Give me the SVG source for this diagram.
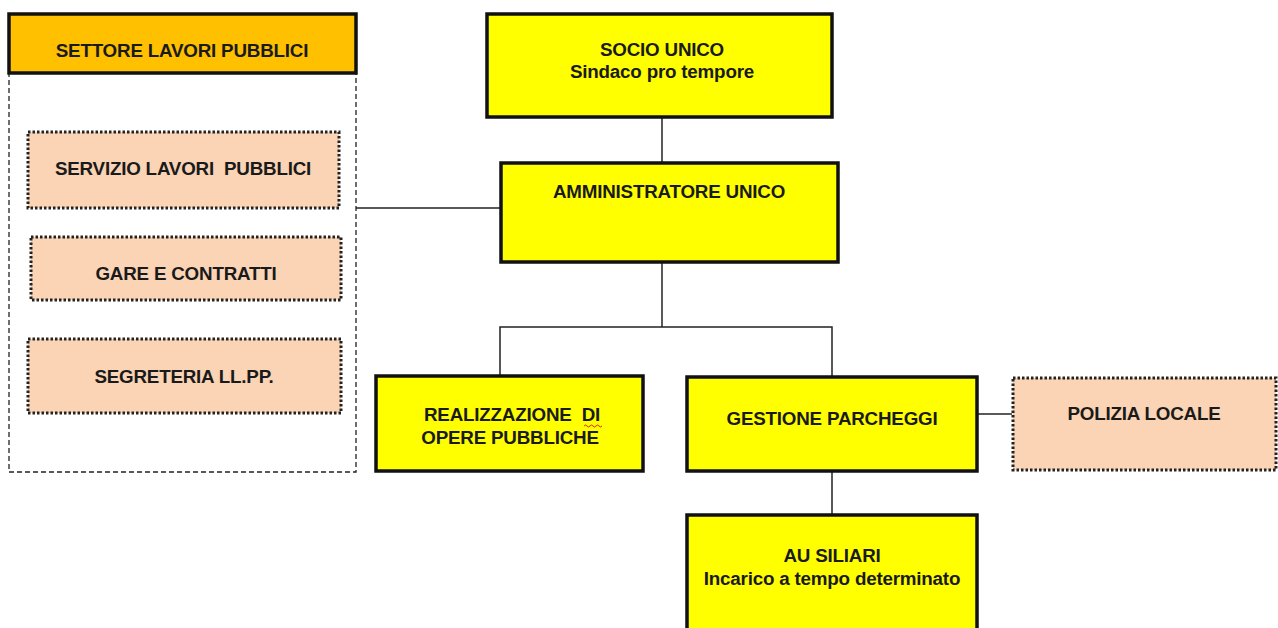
<svg xmlns="http://www.w3.org/2000/svg" width="1278" height="628" viewBox="0 0 1278 628">
<style>
.y{fill:#FFFF00;stroke:#111;stroke-width:3.5}
.o{fill:#FFC000;stroke:#111;stroke-width:3.5}
.p{fill:#FAD4B5;stroke:#222;stroke-width:3;stroke-dasharray:2.5 2}
.c{fill:none;stroke:#222;stroke-width:1.5}
.t{font-family:"Liberation Sans",Arial,sans-serif;font-weight:bold;font-size:18.8px;fill:#1a1a1a;text-anchor:middle;letter-spacing:-0.2px}
</style>
<rect width="1278" height="628" fill="#fff"/>
<g id="connectors">
<line class="c" x1="356" y1="208" x2="500" y2="208"/>
<line class="c" x1="662" y1="117" x2="662" y2="162"/>
<polyline class="c" points="662,262 662,327"/>
<polyline class="c" points="500,375 500,327 832,327 832,376"/>
<line class="c" x1="832" y1="471" x2="832" y2="514"/>
<line class="c" x1="977" y1="414" x2="1012" y2="414"/>
</g>
<g id="settore">
<rect x="9" y="73" width="347" height="399" fill="none" stroke="#222" stroke-width="1.3" stroke-dasharray="5 3"/>
<rect class="o" x="9" y="14" width="347" height="59"/>
<text class="t" x="182" y="57">SETTORE LAVORI PUBBLICI</text>
</g>
<g id="servizio">
<rect class="p" x="28" y="132" width="311" height="76"/>
<text class="t" x="183" y="175" xml:space="preserve">SERVIZIO LAVORI  PUBBLICI</text>
</g>
<g id="gare">
<rect class="p" x="31" y="237" width="310" height="63"/>
<text class="t" x="186" y="280">GARE E CONTRATTI</text>
</g>
<g id="segreteria">
<rect class="p" x="28" y="339" width="313" height="74"/>
<text class="t" x="184" y="383">SEGRETERIA LL.PP.</text>
</g>
<g id="socio">
<rect class="y" x="487" y="14" width="345" height="103"/>
<text class="t" x="662" y="56">SOCIO UNICO</text>
<text class="t" x="662" y="78">Sindaco pro tempore</text>
</g>
<g id="amministratore">
<rect class="y" x="501" y="163" width="337" height="99"/>
<text class="t" x="669" y="198">AMMINISTRATORE UNICO</text>
</g>
<g id="realizzazione">
<rect class="y" x="376" y="376" width="267" height="95"/>
<text class="t" x="512" y="421" xml:space="preserve">REALIZZAZIONE  DI</text>
<text class="t" x="510" y="444">OPERE PUBBLICHE</text>
<path d="M584,426 q1.5,-2 3,0 t3,0 t3,0 t3,0 t3,0 t3,0" fill="none" stroke="#d22" stroke-width="1"/>
</g>
<g id="gestione">
<rect class="y" x="687" y="377" width="290" height="94"/>
<text class="t" x="832" y="425">GESTIONE PARCHEGGI</text>
</g>
<g id="polizia">
<rect class="p" x="1013" y="378" width="263" height="92"/>
<text class="t" x="1144" y="420">POLIZIA LOCALE</text>
</g>
<g id="ausiliari">
<rect class="y" x="687" y="515" width="290" height="130"/>
<text class="t" x="832" y="562">AU SILIARI</text>
<text class="t" x="832" y="585">Incarico a tempo determinato</text>
</g>
</svg>
